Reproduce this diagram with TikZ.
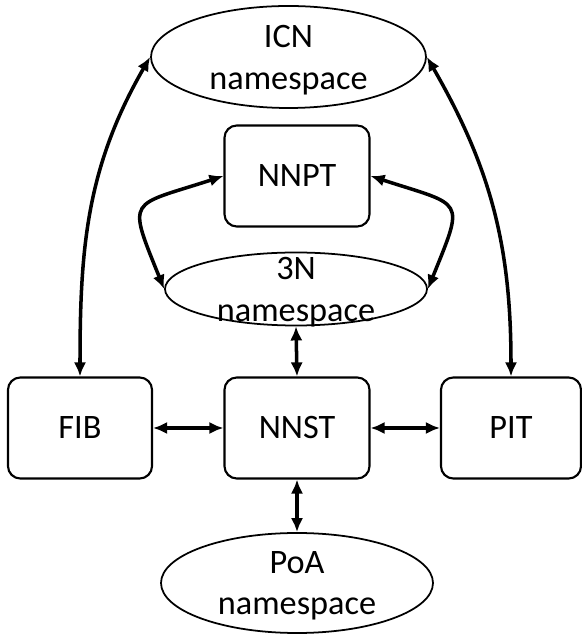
\documentclass[tikz,border=0pt]{standalone}
\usepackage{fontspec}
\setmainfont{Carlito}
\usetikzlibrary{arrows.meta,shapes.geometric}

\begin{document}
\begin{tikzpicture}[
  tabla/.style={draw=black, line width=1.2pt, rounded corners=7pt, minimum width=2.9cm, minimum height=2.02cm, font=\fontsize{19.5}{24}\selectfont},
  espacio/.style={draw=black, line width=1pt, ellipse, inner sep=0pt},
  texto/.style={align=center, yshift=-0.06cm, font=\fontsize{19.5}{23.6}\selectfont},
  flecha/.style={{Latex[length=8pt,width=7pt]}-{Latex[length=8pt,width=7pt]}, line width=2pt}
]
  \useasboundingbox (0,0) rectangle (11.64,12.7);

  %# ESPACIOS DE NOMBRES
  \node[espacio, minimum width=5.5cm, minimum height=2.04cm] (icn) at (5.77,11.56) {};
  \node[texto] (icn-txt) at (icn) {ICN\\namespace};
  \node[espacio, minimum width=5.24cm, minimum height=1.46cm] (n3) at (5.92,6.92) {};
  \node[texto] (n3-txt) at (n3) {3N\\namespace};
  \node[espacio, minimum width=5.44cm, minimum height=2.0cm] (poa) at (5.94,1.04) {};
  \node[texto] (poa-txt) at (poa) {PoA\\namespace};

  %# TABLAS
  \node[tabla] (nnpt) at (5.94,9.18) {NNPT};
  \node[tabla, minimum width=2.88cm] (fib) at (1.60,4.14) {FIB};
  \node[tabla] (nnst) at (5.94,4.14) {NNST};
  \node[tabla, minimum width=2.8cm] (pit) at (10.22,4.14) {PIT};

  %# FLECHAS
  \draw[flecha] (fib.north) to[out=90, in=240] (icn.west);
  \draw[flecha] (pit.north) to[out=90, in=-60] (icn.east);
  \draw[flecha] (nnpt.west) to[out=198, in=112, looseness=2] (n3.west);
  \draw[flecha] (nnpt.east) to[out=-18, in=68, looseness=2] (n3.east);
  \draw[flecha] (n3.south) -- (nnst.north);
  \draw[flecha] (fib.east) -- (nnst.west);
  \draw[flecha] (nnst.east) -- (pit.west);
  \draw[flecha] (nnst.south) -- (poa.north);
\end{tikzpicture}
\end{document}
